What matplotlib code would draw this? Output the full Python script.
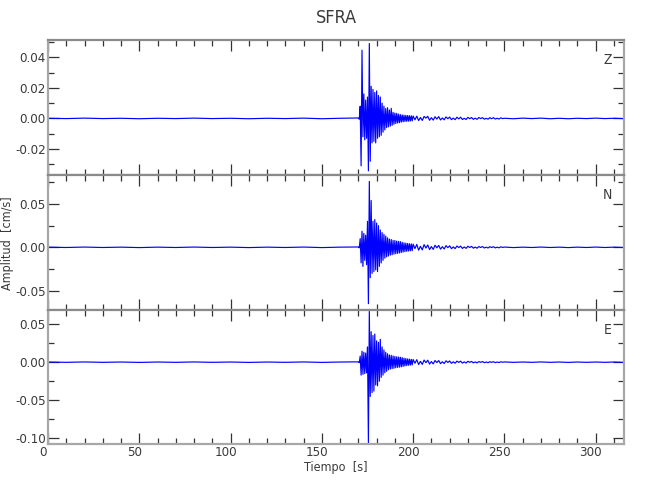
import numpy as np
import matplotlib
matplotlib.use("Agg")
import matplotlib.pyplot as plt
import matplotlib.transforms as mtrans
from matplotlib.ticker import MultipleLocator

plt.rcParams['font.family'] = ['DejaVu Sans']
plt.rcParams['font.stretch'] = 'condensed'

# =========================
# DATA
# =========================
station = "SFRA"
channels = ["Z", "N", "E"]

# sampling grids of the pieces of each trace
t_pre = np.arange(0, 170, 10)        # quiet part before the event
t_main = np.arange(170, 200, 0.5)    # onset + strong shaking
t_coda = np.arange(200, 250, 1.0)    # coda
t_tail = np.arange(250, 316, 5)      # quiet tail

z_pre = [0.0001, -0.0001, 0.0002, -0.0001, 0.0001, -0.0002, 0.0001, -0.0001, 0.0002,
         -0.0001, 0.0001, -0.0002, 0.0001, -0.0001, 0.0002, -0.0002, 0.0001]
z_main = [0.0003, -0.0005, 0.008, -0.031, 0.0446, -0.012, 0.016, -0.014, 0.012, -0.013,
          0.014, -0.0343, 0.049, -0.028, 0.021, -0.016, 0.019, -0.015, 0.017, -0.016,
          0.018, -0.013, 0.015, -0.012, 0.014, -0.011, 0.010, -0.009, 0.008, -0.0075,
          0.0065, -0.006, 0.007, -0.0055, 0.0055, -0.005, 0.0066, -0.0045, 0.004, -0.0038,
          0.0035, -0.0033, 0.0033, -0.003, 0.0028, -0.0028, 0.0025, -0.0024, 0.0023, -0.0022,
          0.0021, -0.002, 0.002, -0.0019, 0.0019, -0.0018, 0.0018, -0.0017, 0.0017, -0.0016]
z_coda = [0.0016, -0.0009, 0.0015, -0.0014, 0.0006, -0.0013, 0.0013, 0.0002, 0.0014, -0.0012,
          0.0005, -0.0011, 0.0011, -0.0004, 0.0012, -0.0010, 0.0003, -0.0009, 0.0010, -0.0002,
          0.0009, -0.0008, 0.0002, -0.0008, 0.0008, -0.0003, 0.0008, -0.0007, 0.0001, -0.0007,
          0.0007, -0.0002, 0.0006, -0.0006, 0.0002, -0.0006, 0.0006, -0.0001, 0.0005, -0.0005,
          0.0001, -0.0005, 0.0005, -0.0002, 0.0005, -0.0004, 0.0001, -0.0004, 0.0004, -0.0001]
z_tail = [0.0001, -0.0002, 0.0002, -0.0001, 0.0002, -0.0002, 0.0001, -0.0002, 0.0001, -0.0001,
          0.0002, -0.0001, 0.0001, -0.0001]

n_pre = [0.0002, -0.0002, 0.0003, -0.0002, 0.0002, -0.0003, 0.0002, -0.0002, 0.0003,
         -0.0002, 0.0002, -0.0003, 0.0002, -0.0002, 0.0003, -0.0003, 0.0002]
n_main = [0.0004, -0.0006, 0.010, -0.018, 0.0185, -0.022, 0.016, -0.015, 0.014, -0.02,
          0.03, -0.065, 0.076, -0.035, 0.054, -0.03, 0.03, -0.028, 0.032, -0.026,
          0.028, -0.028, 0.025, -0.022, 0.02, -0.018, 0.017, -0.015, 0.015, -0.0125,
          0.013, -0.011, 0.011, -0.010, 0.0095, -0.009, 0.009, -0.0085, 0.008, -0.0078,
          0.0078, -0.0074, 0.0072, -0.007, 0.0068, -0.0065, 0.0066, -0.006, 0.0058, -0.0055,
          0.0052, -0.005, 0.0048, -0.0046, 0.0045, -0.0043, 0.0042, -0.004, 0.0039, -0.0038]
n_coda = [0.0037, -0.0015, 0.0034, -0.0033, 0.0012, -0.0030, 0.0031, -0.0008, 0.0027, -0.0026,
          0.0009, -0.0024, 0.0024, -0.0006, 0.0022, -0.0021, 0.0007, -0.0019, 0.0019, -0.0004,
          0.0017, -0.0016, 0.0005, -0.0015, 0.0015, -0.0003, 0.0014, -0.0013, 0.0004, -0.0012,
          0.0012, -0.0002, 0.0011, -0.0010, 0.0003, -0.0010, 0.0009, -0.0002, 0.0009, -0.0008,
          0.0002, -0.0008, 0.0007, -0.0002, 0.0007, -0.0007, 0.0002, -0.0006, 0.0006, -0.0001]
n_tail = [0.0003, -0.0003, 0.0002, -0.0002, 0.0003, -0.0002, 0.0002, -0.0003, 0.0002, -0.0002,
          0.0003, -0.0002, 0.0002, -0.0002]

e_pre = [0.0002, -0.0002, 0.0003, -0.0002, 0.0002, -0.0003, 0.0002, -0.0002, 0.0003,
         -0.0002, 0.0002, -0.0003, 0.0002, -0.0002, 0.0003, -0.0003, 0.0002]
e_main = [0.0004, -0.0006, 0.008, -0.017, 0.0144, -0.016, 0.013, -0.015, 0.012, -0.014,
          0.02, -0.106, 0.0667, -0.045, 0.04, -0.04, 0.035, -0.038, 0.037, -0.03,
          0.028, -0.031, 0.026, -0.025, 0.03, -0.02, 0.02, -0.017, 0.016, -0.014,
          0.013, -0.012, 0.011, -0.010, 0.0095, -0.009, 0.009, -0.0085, 0.0082, -0.008,
          0.0076, -0.0073, 0.007, -0.0069, 0.0068, -0.0066, 0.0065, -0.0062, 0.006, -0.0056,
          0.0052, -0.005, 0.0048, -0.0045, 0.0043, -0.0041, 0.004, -0.0038, 0.0037, -0.0036]
e_coda = [0.0035, -0.0014, 0.0033, -0.0031, 0.0011, -0.0029, 0.0028, -0.0007, 0.0026, -0.0025,
          0.0008, -0.0023, 0.0022, -0.0005, 0.0021, -0.0020, 0.0006, -0.0018, 0.0018, -0.0004,
          0.0016, -0.0015, 0.0005, -0.0014, 0.0014, -0.0003, 0.0013, -0.0012, 0.0004, -0.0011,
          0.0011, -0.0002, 0.0010, -0.0009, 0.0003, -0.0009, 0.0008, -0.0002, 0.0008, -0.0007,
          0.0002, -0.0007, 0.0006, -0.0002, 0.0006, -0.0006, 0.0002, -0.0005, 0.0005, -0.0001]
e_tail = [0.0003, -0.0002, 0.0002, -0.0002, 0.0003, -0.0002, 0.0002, -0.0003, 0.0002, -0.0002,
          0.0002, -0.0002, 0.0002, -0.0002]

# axis limits per panel
ylims = [(-0.037, 0.0513), (-0.0717, 0.0834), (-0.1075, 0.0692)]
ymajor = [0.02, 0.05, 0.05]
yminor = [0.01, 0.025, 0.025]
xmax = 315.5

traces = [
    (z_pre, z_main, z_coda, z_tail),
    (n_pre, n_main, n_coda, n_tail),
    (e_pre, e_main, e_coda, e_tail),
]

# =========================
# FIGURE
# =========================
W, H = 650, 500
fig = plt.figure(figsize=(6.5, 5), dpi=100)

left, right = 48, 624
tops = [40, 175, 309.5]
bots = [175, 309.5, 444]

txt_col = "#3a3a3a"
spine_col = "#a8a8a8"

t_all = np.concatenate([t_pre, t_main, t_coda, t_tail])

axes = []
for i, ch in enumerate(channels):
    ax = fig.add_axes([left / W, 1 - bots[i] / H, (right - left) / W, (bots[i] - tops[i]) / H])
    amp = np.concatenate([np.array(p) for p in traces[i]])
    ax.plot(t_all, amp, color="#0000ff", lw=0.85)
    ax.set_xlim(0, xmax)
    ax.set_ylim(*ylims[i])
    ax.xaxis.set_major_locator(MultipleLocator(50))
    ax.xaxis.set_minor_locator(MultipleLocator(10))
    ax.yaxis.set_major_locator(MultipleLocator(ymajor[i]))
    ax.yaxis.set_minor_locator(MultipleLocator(yminor[i]))
    ax.yaxis.set_major_formatter(plt.FormatStrFormatter('%.2f'))
    ax.tick_params(which='both', direction='in', top=True, right=True,
                   color="#333333", labelcolor=txt_col, labelsize=9.5, width=0.9)
    ax.tick_params(which='major', length=8, pad=1.5)
    ax.tick_params(which='minor', length=4)
    for s in ax.spines.values():
        s.set_color(spine_col)
        s.set_linewidth(1.6)
    ax.spines['top'].set_color("#8a8a8a")
    if i < 2:
        ax.tick_params(labelbottom=False)
    else:
        # x labels sit a little left of their ticks in the reference
        shift = mtrans.ScaledTranslation(-5 / 100, 0, fig.dpi_scale_trans)
        for lab in ax.get_xticklabels():
            lab.set_transform(lab.get_transform() + shift)
    ax.text(0.972, 0.85, ch, transform=ax.transAxes, ha='center', va='center',
            color=txt_col, fontsize=10)
    axes.append(ax)

fig.text((left + right) / 2 / W, 1 - 18 / H, station, ha='center', va='center',
         color=txt_col, fontsize=13)
fig.text((left + right) / 2 / W, 1 - 468 / H, "Tiempo  [s]", ha='center', va='center',
         color=txt_col, fontsize=9)
fig.text(8 / W, 1 - 243 / H, "Amplitud  [cm/s]", ha='center', va='center',
         rotation=90, color=txt_col, fontsize=9)

fig.savefig("out.png", dpi=100)
